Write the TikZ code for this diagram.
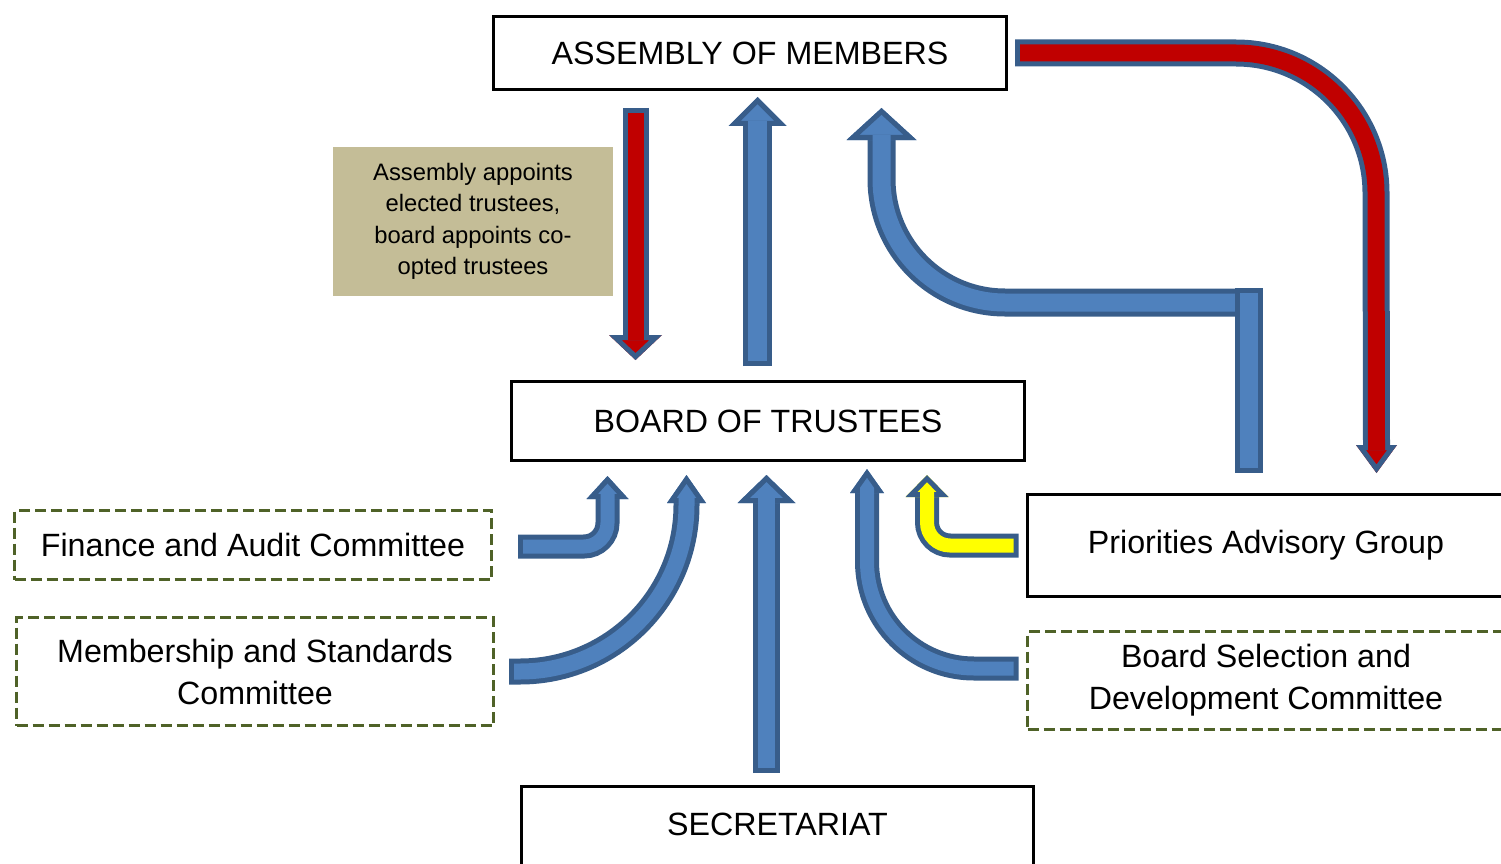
\documentclass[tikz,border=0pt]{standalone}
\usepackage{fontspec}
\setmainfont{Liberation Sans}
\usetikzlibrary{calc}

\definecolor{arrowblue}{HTML}{4F81BD}
\definecolor{arrowedge}{HTML}{385D8A}
\definecolor{arrowred}{HTML}{C00000}
\definecolor{arrowyellow}{HTML}{FFFF00}
\definecolor{notetan}{HTML}{C4BD97}
\definecolor{dashgreen}{HTML}{4F6228}

\tikzset{
  solidbox/.style={draw=black, line width=3.2pt, inner sep=0pt, align=center,
    font=\fontsize{32.2}{42}\selectfont},
  dashbox/.style={draw=dashgreen, line width=3.2pt, dash pattern=on 11pt off 5pt,
    inner sep=0pt, align=center, font=\fontsize{32.2}{42}\selectfont},
  notebox/.style={fill=notetan, inner sep=0pt, align=center,
    font=\fontsize{23.8}{31.5}\selectfont},
  baredge/.style={fill=arrowblue, draw=arrowedge, line width=5pt},
}

% Outlined block arrow (edge 5pt wide, head given by its outer outline):
% #1 fill colour, #2 shaft width, #3 shaft path (tail to just inside the head),
% #4 head base point, #5 head half-width, #6 signed head length
\newcommand{\blockarrow}[6]{%
  \draw[line width=#2+10, draw=arrowedge, shorten <=-5pt] #3;
  \fill[#1] ($#4+(-#5,0)$) -- ($#4+(0,#6)$) -- ($#4+(#5,0)$) -- cycle;
  \begin{scope}
    \clip ($#4+(-#5,0)$) -- ($#4+(0,#6)$) -- ($#4+(#5,0)$) -- cycle;
    \draw[line width=10pt, draw=arrowedge, line join=miter]
      ($#4+(-#5,0)$) -- ($#4+(0,#6)$) -- ($#4+(#5,0)$) -- cycle;
  \end{scope}
  \draw[line width=#2, draw=#1] #3;
}

\begin{document}
\begin{tikzpicture}[x=1pt,y=-1pt]
\useasboundingbox (0,0) rectangle (1501,864);
\clip (0,0) rectangle (1501,864);

% organisation boxes
\node[solidbox, minimum width=513pt, minimum height=72.5pt] (asm) at (750,53) {ASSEMBLY OF MEMBERS};
\node[solidbox, minimum width=513pt, minimum height=79pt] (brd) at (768,421) {BOARD OF TRUSTEES};
\node[solidbox, minimum width=512pt, minimum height=100pt] (sec) at (777.5,836.5)
  {\raisebox{12.5pt}[\height][\depth]{SECRETARIAT}};
\node[solidbox, minimum width=477pt, minimum height=102pt] (pag) at (1266,545.5) {Priorities Advisory Group};
\node[dashbox, minimum width=477pt, minimum height=69pt] (fin) at (253,545) {Finance and Audit Committee};
\node[dashbox, minimum width=477pt, minimum height=108pt] (mem) at (255,671.5) {Membership and Standards\\Committee};
\node[dashbox, minimum width=477pt, minimum height=98pt] (bsd) at (1266,680.5) {Board Selection and\\Development Committee};
\node[notebox, minimum width=280pt, minimum height=149pt] (note) at (473,221.5)
  {Assembly appoints\\elected trustees,\\board appoints co-\\opted trustees};

% arrow tails and head bases
\coordinate (asmbrdT) at (635.5,113);   \coordinate (asmbrdH) at (635.5,335);
\coordinate (brdasmT) at (757.5,361);   \coordinate (brdasmH) at (757.5,126);
\coordinate (pagasmT) at (1240,302.5);  \coordinate (pagasmH) at (881.5,140);
\coordinate (asmpagT) at (1020,53);     \coordinate (asmpagH) at (1376.5,445);
\coordinate (finbrdT) at (523,546.5);   \coordinate (finbrdH) at (607.5,499);
\coordinate (membrdT) at (514,671.5);   \coordinate (membrdH) at (686.5,503);
\coordinate (secbrdT) at (766.5,768);   \coordinate (secbrdH) at (766.5,503);
\coordinate (bsdbrdT) at (1013.5,668.5);\coordinate (bsdbrdH) at (867,493);
\coordinate (pagbrdT) at (1013.5,545.5);\coordinate (pagbrdH) at (927,497);

% assembly -> board
\blockarrow{arrowred}{16}{(asmbrdT) -- ([yshift=-5pt]asmbrdH)}{(asmbrdH)}{26.5}{25}
% board -> assembly
\blockarrow{arrowblue}{19}{(brdasmT) -- ([yshift=5pt]brdasmH)}{(brdasmH)}{29}{-29}
% priorities group -> assembly
\blockarrow{arrowblue}{18}{(pagasmT) -- (1005,302.5) arc[start angle=90,end angle=180,radius=123.5] -- ([yshift=5pt]pagasmH)}{(pagasmH)}{35}{-32}
\filldraw[baredge] (1237.5,290.5) rectangle (1260.5,470.5);
% assembly -> priorities group
\blockarrow{arrowred}{17}{(asmpagT) -- (1236,53) arc[start angle=-90,end angle=0,radius=140] -- ([yshift=-5pt]asmpagH)}{(asmpagH)}{20.5}{28}
% committees and secretariat -> board
\blockarrow{arrowblue}{14}{(finbrdT) -- (584,546.5) arc[start angle=90,end angle=0,radius=23.5] -- ([yshift=5pt]finbrdH)}{(finbrdH)}{21}{-23}
\blockarrow{arrowblue}{16}{(membrdT) -- (520,671.5) arc[start angle=90,end angle=0,radius=166.5] -- ([yshift=5pt]membrdH)}{(membrdH)}{19.5}{-28}
\blockarrow{arrowblue}{17}{(secbrdT) -- ([yshift=5pt]secbrdH)}{(secbrdH)}{29}{-28}
\blockarrow{arrowblue}{14}{(bsdbrdT) -- (974,668.5) arc[start angle=90,end angle=180,radius=107] -- ([yshift=5pt]bsdbrdH)}{(bsdbrdH)}{17}{-24}
\blockarrow{arrowyellow}{14}{(pagbrdT) -- (950,545.5) arc[start angle=90,end angle=180,radius=23] -- ([yshift=5pt]pagbrdH)}{(pagbrdH)}{21.5}{-22}
\end{tikzpicture}
\end{document}
